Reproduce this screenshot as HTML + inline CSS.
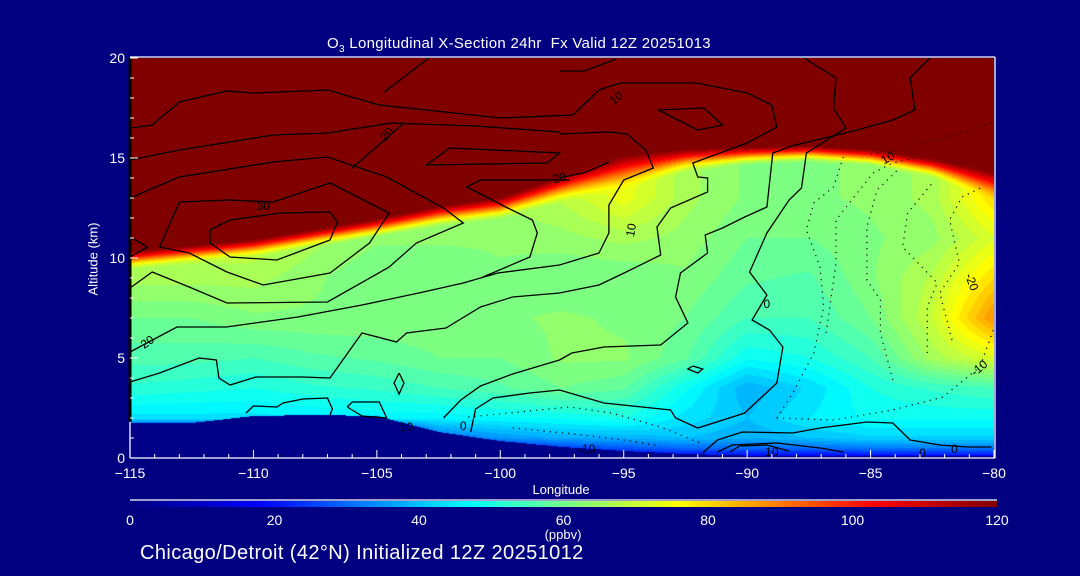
<!DOCTYPE html>
<html><head><meta charset="utf-8">
<style>
html,body{margin:0;padding:0;background:#000080;}
#root{position:relative;width:1080px;height:576px;background:#000080;overflow:hidden;font-family:"Liberation Sans",sans-serif;color:#fff;}
.t{position:absolute;white-space:nowrap;color:#fff;}
#fld{position:absolute;left:130px;top:58px;}
svg{position:absolute;left:0;top:0;}
</style></head>
<body>
<div id="root">
<div class="t" style="left:327px;top:35px;font-size:15px;letter-spacing:0.3px;">O<sub style="font-size:10px">3</sub> Longitudinal X-Section 24hr&nbsp; Fx Valid 12Z 20251013</div>
<canvas id="fld" width="864" height="400"></canvas>
<svg id="ov" width="1080" height="576"></svg>
<div class="t" style="left:93px;top:259px;font-size:13px;transform:translate(-50%,-50%) rotate(-90deg);">Altitude (km)</div>
<div class="t" style="left:561px;top:482px;font-size:13px;transform:translateX(-50%);">Longitude</div>
<div class="t" style="left:563px;top:527px;font-size:13px;transform:translateX(-50%);">(ppbv)</div>
<div class="t" style="left:140px;top:542px;font-size:20px;letter-spacing:0.4px;">Chicago/Detroit (42°N) Initialized 12Z 20251012</div>
</div>
<script>
// ---------- data ----------
const lons = [-115,-112.5,-110,-107.5,-105,-102.5,-100,-97.5,-95,-92.5,-90,-87.5,-85,-82.5,-80];
const alts = [0,0.5,1,2,3.5,5,7,9,11,13];
const ozoneProfiles = [
 [0,0,0,44,52,56,60,66,70,74],
 [0,0,0,44,51,56,60,66,70,74],
 [0,0,0,44,50,55,62,66,70,74],
 [0,0,0,45,52,57,62,63,66,70],
 [0,0,0,46,53,58,62,60,63,68],
 [0,0,30,46,55,60,62,60,63,66],
 [0,20,35,47,57,60,62,62,63,65],
 [10,25,38,48,60,63,63,60,64,68],
 [12,28,38,50,58,63,62,60,66,74],
 [15,30,40,44,48,58,60,62,64,66],
 [15,30,38,40,38,48,55,58,60,62],
 [15,30,40,45,43,50,55,57,60,62],
 [15,32,42,48,50,55,60,62,62,63],
 [15,32,42,48,53,66,70,68,64,66],
 [15,32,42,48,55,72,88,80,72,80]
];
const tropopause = [10.0,10.3,10.6,11.1,11.6,12.2,12.6,13.6,14.5,15.0,15.2,15.3,15.1,14.6,13.8];
const tropWidth = [1.2,1.2,1.2,1.2,1.3,1.4,1.5,1.8,2.4,1.6,1.2,1.1,1.1,1.3,2.0];
const terrain = [1.75,1.75,2.1,2.15,2.1,1.3,0.85,0.55,0.35,0.2,0.12,0.1,0.1,0.1,0.1];
const xTicks = [-115,-110,-105,-100,-95,-90,-85,-80];
const xTickLabels = ["\u2212115","\u2212110","\u2212105","\u2212100","\u221295","\u221290","\u221285","\u221280"];
const yTicks = [0,5,10,15,20];
const cbTicks = [0,20,40,60,80,100,120];
const solidContours = [
 [[-115,5.3],[-113.1,6.55],[-111.1,6.55],[-108.2,7.05],[-105.6,7.65],[-103.3,8.25],[-101.5,8.75],[-100.1,9.25],[-97.6,9.65],[-96,10.25],[-95.6,11.25],[-95.6,12.65],[-95,13.9],[-93.8,14.5],[-94.1,15.4],[-94.87,16.2],[-95.6,16.3],[-97.6,16.2]],
 [[-97.6,14.0],[-96.5,14.3],[-95.6,14.8]],
 [[-115,3.8],[-113.8,4.25],[-112.2,5.0],[-111.5,4.9],[-111.4,4.0],[-110.95,3.65],[-109.9,4.05],[-108,4.05],[-106.9,4.0],[-105.6,6.25],[-104.2,5.8],[-103.8,6.25],[-102.2,6.5],[-100.8,7.55],[-99.5,8.05],[-97.6,8.25],[-96,8.65],[-94.9,9.3],[-93.5,10.15],[-93.65,11.55],[-93.1,12.5],[-91.6,13.3],[-91.6,14.0],[-92.0,14.05],[-92.2,14.75],[-90,15.75],[-88.8,16.55],[-89,17.65],[-90,18.25],[-92.05,18.75],[-95.15,18.75],[-96,18.4],[-97.05,17.15],[-100,17.0],[-103,17.4],[-104.9,17.65],[-107,18.4],[-110,18.25],[-111.1,18.35],[-113,17.8],[-114.1,16.65],[-115,16.5]],
 [[-97.6,4.9],[-97.1,5.25],[-95.8,5.55],[-93.5,5.65],[-92.4,6.75],[-92.9,8.05],[-92.7,9.25],[-91.6,10.25],[-91.7,11.15],[-91,11.5],[-90.1,12.05],[-89.2,12.55],[-88.96,15.25],[-88.2,15.6],[-85.55,16.4],[-84.1,16.9],[-83.2,17.4],[-83.4,19.0],[-82.6,20]],
 [[-101.2,1.3],[-101.0,2.45],[-100.3,3.0],[-98.8,3.25],[-97.6,3.4],[-95.8,2.75],[-93.1,2.4],[-92.9,2.0],[-92.0,1.5],[-90.1,2.25],[-88.8,3.75],[-88.55,5.55],[-89.1,6.4],[-89.8,6.9],[-89.2,8.15],[-89.9,9.3],[-89.2,11.25],[-88.3,12.9],[-87.8,13.5],[-87.6,15.25],[-86.0,16.5],[-86.5,17.5],[-86.4,19.0],[-87.7,20]],
 [[-91.8,0.25],[-91.2,0.9],[-90.2,1.3],[-88.15,1.25],[-87.05,1.5],[-85.15,1.8],[-84.1,1.75],[-83.4,0.9],[-82.2,0.65],[-81.1,0.55],[-80.1,0.55]],
 [[-91.2,0.3],[-90.6,0.65],[-88.8,0.75],[-87.05,0.5],[-86.1,0.3]],
 [[-90.7,0.3],[-90.3,0.6],[-89.2,0.65],[-88.3,0.35]],
 [[-115,11.05],[-114.3,10.55],[-115,10.05]],
 [[-111.76,11.4],[-110.95,11.9],[-108.9,12.25],[-106.9,12.3],[-106.6,11.8],[-106.9,10.9],[-109.05,9.9],[-110.95,10.05],[-111.76,10.75],[-111.76,11.4]],
 [[-113.8,10.55],[-113.0,12.8],[-111,12.9],[-109.2,12.8],[-106.9,13.75],[-104.5,12.25],[-105.3,10.75],[-106.9,9.25],[-109.6,8.65],[-111.07,9.3],[-112.6,10.25],[-113.8,10.55]],
 [[-115,13.0],[-113.0,14.05],[-109.2,14.8],[-107,15.05],[-104.6,14.05],[-102.3,12.5],[-101.5,11.75],[-103.4,10.75],[-104.5,9.55],[-107,7.8],[-111.07,7.75],[-112.6,8.55],[-114.1,9.3],[-115,8.5]],
 [[-115,14.9],[-113,15.4],[-109.2,16.15],[-107,16.25],[-104.4,16.75],[-101,16.6],[-97.6,16.3]],
 [[-106,14.5],[-103.9,16.75]],
 [[-104.7,18.3],[-102.9,20]],
 [[-103,14.65],[-102.05,15.5],[-97.6,15.25],[-98.1,14.75],[-103,14.65]],
 [[-97.2,13.9],[-100.8,13.9],[-101.35,13.55],[-99.7,12.5],[-98.7,11.9],[-98.5,11.25],[-98.8,10.05],[-100.7,9.05]],
 [[-97.6,19.35],[-96.6,19.35],[-95.3,19.95]],
 [[-93.6,17.4],[-91.75,17.5],[-91.0,16.65],[-92.0,16.4],[-93.6,17.4]],
 [[-106.2,2.55],[-106,2.8],[-104.9,2.8],[-104.6,2.0],[-105.6,2.1],[-106.2,2.55]],
 [[-110.3,2.25],[-110.0,2.6],[-109.05,2.55],[-108.8,2.75],[-108,2.95],[-107,3.0],[-106.8,2.45],[-106.9,2.15]],
 [[-102.3,2.0],[-101.6,2.9],[-100.8,3.6],[-99.5,4.2],[-97.6,4.9]],
 [[-104.1,4.25],[-103.9,3.75],[-104.1,3.2],[-104.3,3.75],[-104.1,4.25]],
 [[-92.2,4.6],[-91.8,4.45],[-92.0,4.25],[-92.4,4.45],[-92.2,4.6]]
];
const dottedContours = [
 [[-88.8,2.0],[-88.15,3.25],[-87.3,5.25],[-86.9,7.55],[-87.05,9.55],[-87.6,11.4],[-87.3,12.75],[-86.5,13.55],[-86.1,15.05]],
 [[-88.8,2.0],[-86.5,1.9],[-84.1,2.4],[-82.07,3.05],[-80.57,4.55],[-80,6.5]],
 [[-86.8,6.25],[-86.4,9.75],[-86.4,11.9],[-84.9,14.25],[-84.1,14.75],[-83.2,15.0]],
 [[-84.1,3.9],[-84.6,6.25],[-84.6,7.9],[-85.15,8.9],[-85.15,11.55],[-84.74,13.4],[-83.9,14.4]],
 [[-82.7,5.25],[-82.7,7.55],[-82.3,8.75],[-83.7,10.55],[-83.5,12.25],[-82.5,13.75]],
 [[-81.7,5.9],[-82.2,8.25],[-81.4,9.75],[-81.8,11.9],[-81.3,13.05],[-80.45,13.55]],
 [[-101.3,2.05],[-97.2,2.55],[-95.5,2.25],[-93.5,1.55],[-91.8,0.7]],
 [[-99.5,1.5],[-97,1.2],[-95,0.9],[-93.5,0.6]],
 [[-85,15.2],[-82,16.0],[-80,16.8]]
];
const contourLabels = [
 {lon:-114.3,alt:5.8,t:"20",r:-35},{lon:-109.6,alt:12.6,t:"30",r:0},{lon:-104.6,alt:16.2,t:"20",r:-50},
 {lon:-97.6,alt:14.0,t:"20",r:-15},{lon:-94.7,alt:11.4,t:"10",r:-80},{lon:-89.2,alt:7.7,t:"0",r:0},
 {lon:-95.3,alt:18.0,t:"10",r:-40},{lon:-84.3,alt:15.0,t:"10",r:-30},{lon:-80.9,alt:8.8,t:"-20",r:70},
 {lon:-80.6,alt:4.5,t:"-10",r:-40},{lon:-103.8,alt:1.55,t:"10",r:0},{lon:-101.5,alt:1.6,t:"0",r:0},
 {lon:-96.5,alt:0.45,t:"-10",r:0},{lon:-89.0,alt:0.3,t:"10",r:0},{lon:-82.9,alt:0.25,t:"0",r:0},
 {lon:-81.6,alt:0.45,t:"0",r:0}
];
// ---------- scales ----------
const PX0=130, PX1=994, PY0=458, PY1=58;
function xs(lon){return PX0+(lon+115)/35*(PX1-PX0);}
function ys(alt){return PY0-(alt/20)*(PY0-PY1);}
const cstops=[[0,[0,0,128]],[18,[0,0,255]],[47,[0,255,255]],[76,[255,255,0]],[103,[255,0,0]],[120,[128,0,0]]];
function cmap(v){v=Math.max(0,Math.min(120,v));for(let i=1;i<cstops.length;i++){if(v<=cstops[i][0]){const a=cstops[i-1],b=cstops[i];const f=(v-a[0])/(b[0]-a[0]);return [0,1,2].map(k=>Math.round(a[1][k]+(b[1][k]-a[1][k])*f));}}return cstops[cstops.length-1][1];}
function lerpArr(arr,lon){const f=(lon+115)/2.5;let i=Math.min(lons.length-2,Math.max(0,Math.floor(f)));const t=f-i;return arr[i]*(1-t)+arr[i+1]*t;}
function field(lon,alt){
 const f=(lon+115)/2.5;let i=Math.min(lons.length-2,Math.max(0,Math.floor(f)));const t=f-i;
 const a=Math.min(alt,alts[alts.length-1]);let j=0;while(j<alts.length-2&&a>alts[j+1])j++;
 const u=(a-alts[j])/(alts[j+1]-alts[j]);
 const p=ozoneProfiles;
 const v0=p[i][j]*(1-u)+p[i][j+1]*u, v1=p[i+1][j]*(1-u)+p[i+1][j+1]*u;
 let base=v0*(1-t)+v1*t;
 const tr=lerpArr(tropopause,lon), w=lerpArr(tropWidth,lon);
 let s=(alt-(tr-w/2))/w; s=Math.max(0,Math.min(1,s)); s=s*s*(3-2*s);
 let v=base+(128-base)*s;
 if(alt<lerpArr(terrain,lon)) v=0;
 return v;
}
// ---------- field ----------
const cv=document.getElementById('fld');const ctx=cv.getContext('2d');
const img=ctx.createImageData(864,400);
for(let py=0;py<400;py++){const alt=(PY0-(PY1+py+0.5))/20;
 for(let px=0;px<864;px++){const lon=-115+(px+0.5)/864*35;
  let v=field(lon,alt); v=Math.floor(v/2.5)*2.5+1.25;
  const c=cmap(v);const k=(py*864+px)*4;img.data[k]=c[0];img.data[k+1]=c[1];img.data[k+2]=c[2];img.data[k+3]=255;}}
ctx.putImageData(img,0,0);
// ---------- overlay ----------
const NS='http://www.w3.org/2000/svg';const svg=document.getElementById('ov');
function mk(tag,attrs,parent){const e=document.createElementNS(NS,tag);for(const k in attrs)e.setAttribute(k,attrs[k]);(parent||svg).appendChild(e);return e;}
const gC=mk('g',{});


solidContours.forEach(c=>{const el=mk('polyline',{points:c.map(p=>xs(p[0]).toFixed(1)+','+ys(p[1]).toFixed(1)).join(' '),fill:'none',stroke:'#000','stroke-width':1.3},gC);
 
 });
dottedContours.forEach(c=>{const el=mk('polyline',{points:c.map(p=>xs(p[0]).toFixed(1)+','+ys(p[1]).toFixed(1)).join(' '),fill:'none',stroke:'#000','stroke-width':1.2,'stroke-dasharray':'1.2 5'},gC);
 
 });
contourLabels.forEach(l=>{const x=xs(l.lon),y=ys(l.alt);const el=mk('text',{x:x,y:y+4,'text-anchor':'middle','font-size':12,fill:'#000','font-family':'Liberation Sans, sans-serif',transform:'rotate('+l.r+' '+x+' '+y+')'},gC);el.textContent=l.t;
 
 });
// axes frame
const fr=mk('g',{});


mk('line',{x1:PX0,y1:PY1-1,x2:PX1+1,y2:PY1-1,stroke:'#fff','stroke-width':1.3},fr);
mk('line',{x1:PX1+1,y1:PY1-1,x2:PX1+1,y2:PY0,stroke:'#fff','stroke-width':1.3},fr);
mk('line',{x1:PX0,y1:PY0,x2:PX1+1,y2:PY0,stroke:'#fff','stroke-width':1.3},fr);
mk('line',{x1:PX0,y1:PY1,x2:PX0,y2:PY0,stroke:'#fff','stroke-width':1.3},fr);
mk('line',{x1:PX0,y1:PY1,x2:PX0,y2:ys(1.8),stroke:'#000','stroke-width':3},fr);
for(let lon=-115;lon<=-80;lon++){const major=(lon%5===0);mk('line',{x1:xs(lon),y1:PY0,x2:xs(lon),y2:PY0-(major?8:4),stroke:'#fff','stroke-width':1},fr);}
for(let a=0;a<=20;a++){const major=(a%5===0);mk('line',{x1:PX0,y1:ys(a),x2:PX0+(major?8:4),y2:ys(a),stroke:'#fff','stroke-width':1},fr);}
xTicks.forEach((v,i)=>{const t=mk('text',{x:xs(v),y:PY0+20,'text-anchor':'middle','font-size':14,fill:'#fff','font-family':'Liberation Sans, sans-serif'});t.textContent=xTickLabels[i];
 
 });
yTicks.forEach(v=>{const t=mk('text',{x:125,y:ys(v)+5,'text-anchor':'end','font-size':14,fill:'#fff','font-family':'Liberation Sans, sans-serif'});t.textContent=String(v);
 
 });
// colorbar
const defs=mk('defs',{});const lg=mk('linearGradient',{id:'cbg',x1:0,x2:1,y1:0,y2:0},defs);
cstops.forEach(s=>mk('stop',{offset:(s[0]/120),'stop-color':'rgb('+s[1].join(',')+')'},lg));
const cb=mk('g',{});


mk('line',{x1:130,y1:500,x2:997,y2:500,stroke:'#fff','stroke-width':1.3},cb);
mk('rect',{x:130,y:501,width:867,height:6,fill:'url(#cbg)'},cb);
cbTicks.forEach(v=>{const t=mk('text',{x:130+v/120*867,y:525,'text-anchor':'middle','font-size':14,fill:'#fff','font-family':'Liberation Sans, sans-serif'},cb);t.textContent=String(v);
 
 });
</script>
</body></html>
